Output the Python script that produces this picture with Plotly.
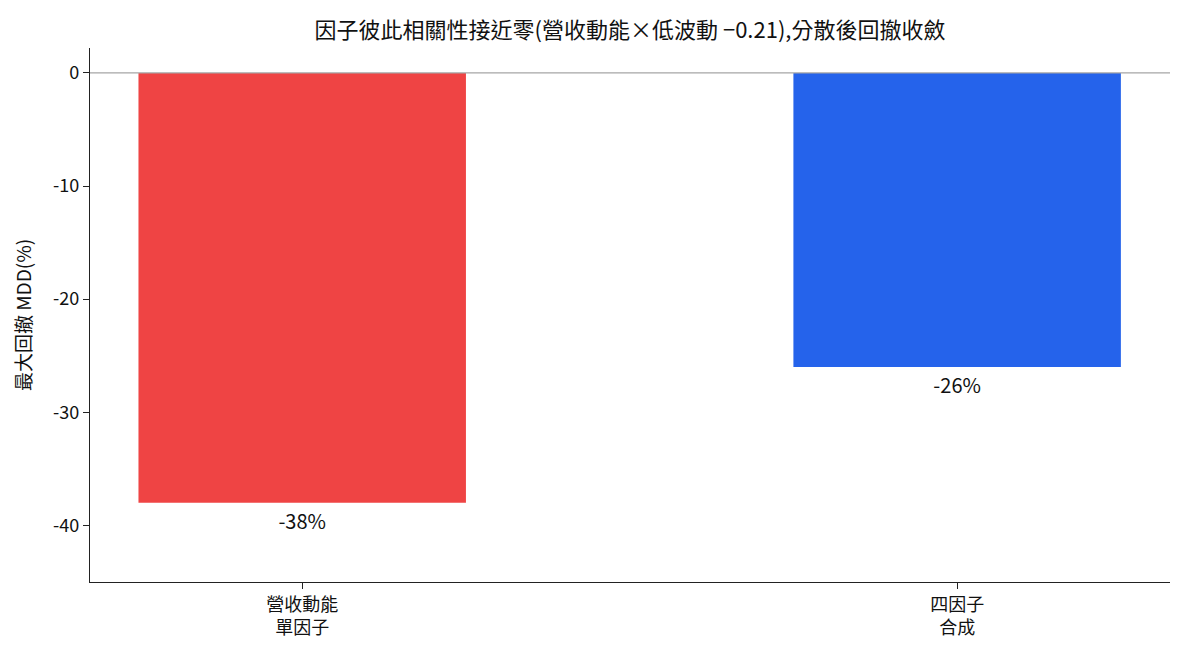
import plotly.graph_objects as go

categories = ["營收動能<br>單因子", "四因子<br>合成"]
mdd = [-38, -26]
labels = ["-38%", "-26%"]
colors = ["#ef4444", "#2563eb"]
ytick_vals = [0, -10, -20, -30, -40]
ytick_text = ["0", "-10", "-20", "-30", "-40"]

font_family = "Noto Sans CJK TC, Noto Sans, sans-serif"

fig = go.Figure()
fig.add_trace(go.Bar(
    x=categories, y=mdd, width=0.5,
    marker=dict(color=colors, line=dict(width=0)),
    text=labels, textposition="outside", cliponaxis=False,
    textfont=dict(size=20, color="#111111"),
))

fig.add_hline(y=0, line=dict(color="#a6a6a6", width=1.3))

# page body adds an 8px offset, so the figure is slightly smaller than the window
fig.update_layout(
    width=1168, height=640,
    margin=dict(l=82, r=6, t=40, b=66),
    paper_bgcolor="white", plot_bgcolor="white",
    font=dict(family=font_family, size=16, color="#222222"),
    title=dict(text="因子彼此相關性接近零(營收動能×低波動 −0.21),分散後回撤收斂",
               xref="paper", x=0.5, xanchor="center",
               y=1 - 22 / 640, yanchor="middle",
               font=dict(size=22, color="#111111")),
    showlegend=False,
)
fig.update_xaxes(
    range=[-0.324, 1.325], showline=True, linecolor="#222222", linewidth=1.3,
    ticks="outside", ticklen=6, tickcolor="#222222", showgrid=False,
    tickfont=dict(size=18, color="#111111"),
)
fig.update_yaxes(
    range=[-45, 2.2], showline=True, linecolor="#222222", linewidth=1.3,
    ticks="outside", ticklen=6, tickcolor="#222222", showgrid=False,
    zeroline=False, tickvals=ytick_vals, ticktext=ytick_text,
    tickfont=dict(size=18, color="#111111"),
    title=dict(text="最大回撤 MDD(%)", font=dict(size=19, color="#111111"), standoff=16),
)

fig.write_html("out.html")
